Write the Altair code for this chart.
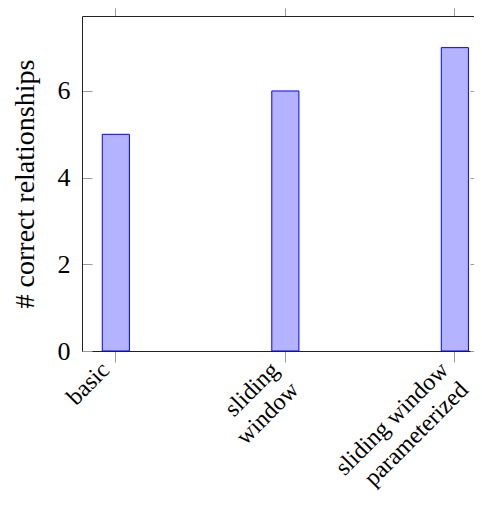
import altair as alt
import pandas as pd

categories = ["basic", "sliding\nwindow", "sliding window\nparameterized"]
values = [5, 6, 7]
y_ticks = [0, 2, 4, 6]
y_max = 7.73

df = pd.DataFrame({"method": categories, "count": values})

FONT = "Liberation Serif"
AXIS_COLOR = "#222222"
TICK_COLOR = "#9a9a9a"

xscale = alt.Scale(domain=categories, paddingInner=0.84, paddingOuter=0.0763, align=0.784)
yscale = alt.Scale(domain=[0, y_max], nice=False, zero=True)

base = alt.Chart(df)

top_axis = base.mark_point(opacity=0).encode(
    x=alt.X("method:N", scale=xscale, sort=categories, title=None,
            axis=alt.Axis(orient="top", labels=False, tickSize=8, tickColor=TICK_COLOR,
                          tickWidth=1, domainColor=AXIS_COLOR, domainWidth=1, grid=False))
)

y_in_left = base.mark_point(opacity=0).encode(
    y=alt.Y("count:Q", scale=yscale, title=None,
            axis=alt.Axis(orient="left", values=y_ticks, offset=-10, tickSize=10,
                          tickColor=TICK_COLOR, tickWidth=1, labels=False, domain=False, grid=False))
)

y_in_right = base.mark_point(opacity=0).encode(
    y=alt.Y("count:Q", scale=yscale, title=None,
            axis=alt.Axis(orient="right", values=y_ticks, offset=-4, tickSize=4,
                          tickColor=TICK_COLOR, tickWidth=1, labels=False, domain=False, grid=False))
)

bars = base.mark_bar(fill="#b3b3ff", stroke="#0000ff", strokeWidth=1).encode(
    x=alt.X("method:N", scale=xscale, sort=categories, title=None,
            axis=alt.Axis(orient="bottom", labelAngle=-45, labelAlign="right", labelBaseline="middle",
                          labelExpr="split(datum.label, '\\n')", labelLineHeight=28,
                          labelFont=FONT, labelFontSize=24, labelColor="black",
                          labelPadding=4, labelOffset=-10,
                          tickSize=11, tickColor=TICK_COLOR, tickWidth=1,
                          domainColor=AXIS_COLOR, domainWidth=1, grid=False)),
    y=alt.Y("count:Q", scale=yscale, title="# correct relationships",
            axis=alt.Axis(orient="left", values=y_ticks, ticks=False, tickSize=0, labelPadding=12,
                          labelFont=FONT, labelFontSize=26, labelColor="black",
                          titleFont=FONT, titleFontSize=28, titleFontWeight="normal",
                          titleColor="black", titlePadding=18,
                          domainColor=AXIS_COLOR, domainWidth=1, grid=False)),
)

chart = (
    alt.layer(top_axis, y_in_left, y_in_right, bars)
    .resolve_axis(x="independent", y="independent")
    .properties(width=392, height=335,
                autosize=alt.AutoSizeParams(type="none"),
                padding={"left": 74, "top": 8, "right": 0, "bottom": 142})
    .configure(font=FONT)
    .configure_view(stroke=None)
)

chart.save("out.html", embed_options={"renderer": "svg", "actions": False})
